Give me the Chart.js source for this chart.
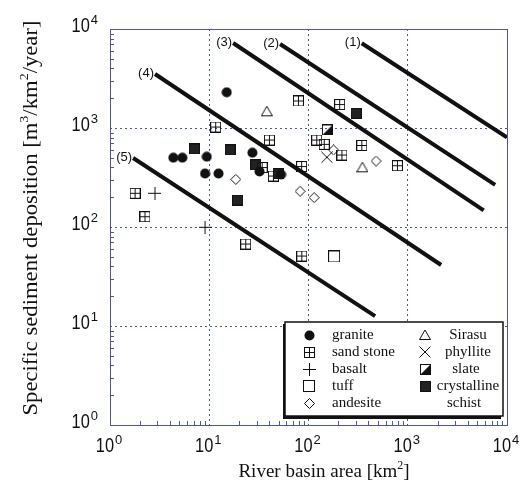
<!DOCTYPE html>
<html>
<head>
<meta charset="utf-8">
<script src="https://cdn.jsdelivr.net/npm/chart.js@4"></script>
<style>
  html, body { margin: 0; padding: 0; background: #fff; }
  canvas { display: block; }
</style>
</head>
<body>
<canvas id="sedimentChart" width="524" height="492"></canvas>
<script>
// [river basin area km2, specific sediment deposition m3/km2/year]
var granite = [[15.0, 2295], [4.35, 501], [5.36, 501], [9.44, 513], [9.07, 347], [12.4, 347], [27.2, 563], [32.1, 364], [52.9, 339]];
var sandStone = [[11.6, 1023], [79.1, 1875], [206, 1727], [40.4, 756], [121, 756], [144, 684], [217, 533], [344, 666], [787, 416],
                 [85.2, 408], [34.1, 399], [44.3, 327], [1.79, 219], [2.25, 127], [23.3, 67.3], [85.6, 50.9]];
var basalt = [[2.84, 219], [9.07, 99.3]];
var tuff = [[181, 50.4]];
var andesite = [[18.5, 303], [179, 600], [480, 464], [82.3, 230], [114, 198]];
var sirasu = [[38.0, 1475], [349, 401]];
var phyllite = [[153, 506]];
var slate = [[155, 955]];
var crystallineSchist = [[7.08, 614], [16.2, 600], [29.3, 423], [49.4, 347], [19.3, 187], [302, 1407]];

// envelope lines (1)..(5)
var lineNames = ['(1)', '(2)', '(3)', '(4)', '(5)'];
var lineStart = [[344, 7172], [51.7, 7050], [17.4, 7220], [2.84, 3510], [1.71, 498]];
var lineEnd = [[9980, 805], [7600, 266], [5820, 147], [2170, 41.3], [469, 12.6]];

var decades = [1, 10, 100, 1000, 10000];
var decadeExponents = ['0', '1', '2', '3', '4'];

// axis titles, split into [text, superscript?] runs
var xTitle = [['River basin area [km', false], ['2', true], [']', false]];
var yTitle = [['Specific sediment deposition [m', false], ['3', true], ['/km', false], ['2', true], ['/year]', false]];

var ink = '#111';
var frameColor = '#4a5a9e';

function marker(size, draw) {
  var c = document.createElement('canvas');
  c.width = size; c.height = size;
  var g = c.getContext('2d');
  g.strokeStyle = ink; g.fillStyle = ink; g.lineWidth = 1;
  draw(g, size);
  return c;
}

var markers = {
  granite: marker(11, function (g) { g.beginPath(); g.arc(5.5, 5.5, 5, 0, Math.PI * 2); g.fill(); }),
  sandStone: marker(11, function (g) {
    g.strokeRect(0.5, 0.5, 10, 10);
    g.beginPath(); g.moveTo(5.5, 0.5); g.lineTo(5.5, 10.5); g.moveTo(0.5, 5.5); g.lineTo(10.5, 5.5); g.stroke();
  }),
  basalt: marker(13, function (g) {
    g.beginPath(); g.moveTo(6.5, 0); g.lineTo(6.5, 13); g.moveTo(0, 6.5); g.lineTo(13, 6.5); g.stroke();
  }),
  tuff: marker(12, function (g) { g.strokeRect(0.5, 0.5, 11, 11); }),
  andesite: marker(11, function (g) {
    g.beginPath(); g.moveTo(5.5, 0.5); g.lineTo(10.5, 5.5); g.lineTo(5.5, 10.5); g.lineTo(0.5, 5.5); g.closePath(); g.stroke();
  }),
  sirasu: marker(12, function (g) {
    g.beginPath(); g.moveTo(6, 1); g.lineTo(11.5, 10.5); g.lineTo(0.5, 10.5); g.closePath(); g.stroke();
  }),
  phyllite: marker(12, function (g) {
    g.beginPath(); g.moveTo(0.5, 0.5); g.lineTo(11.5, 11.5); g.moveTo(11.5, 0.5); g.lineTo(0.5, 11.5); g.stroke();
  }),
  slate: marker(11, function (g) {
    g.strokeRect(0.5, 0.5, 10, 10);
    g.beginPath(); g.moveTo(10.5, 0.5); g.lineTo(10.5, 10.5); g.lineTo(0.5, 10.5); g.closePath(); g.fill();
  }),
  crystallineSchist: marker(11, function (g) { g.fillStyle = '#222'; g.fillRect(0, 0, 11, 11); g.strokeRect(0.5, 0.5, 10, 10); })
};

var rockSeries = [
  ['granite', granite, markers.granite],
  ['sand stone', sandStone, markers.sandStone],
  ['basalt', basalt, markers.basalt],
  ['tuff', tuff, markers.tuff],
  ['andesite', andesite, markers.andesite],
  ['Sirasu', sirasu, markers.sirasu],
  ['phyllite', phyllite, markers.phyllite],
  ['slate', slate, markers.slate],
  ['crystalline schist', crystallineSchist, markers.crystallineSchist]
];

var datasets = [];
rockSeries.forEach(function (s) {
  datasets.push({
    label: s[0],
    data: s[1].map(function (p) { return { x: p[0], y: p[1] }; }),
    pointStyle: s[2],
    pointRadius: 5,
    showLine: false
  });
});
lineNames.forEach(function (name, i) {
  datasets.push({
    label: name,
    data: [{ x: lineStart[i][0], y: lineStart[i][1] }, { x: lineEnd[i][0], y: lineEnd[i][1] }],
    showLine: true,
    borderColor: ink,
    borderWidth: 4,
    pointRadius: 0
  });
});

// "10" with a raised exponent; (ax, cy) = anchor x and vertical centre of the "10"
function drawPower(ctx, exp, ax, cy, align) {
  ctx.font = '21px "Liberation Sans"';
  var baseW = ctx.measureText('10').width * 0.78;
  ctx.font = '13px "Liberation Sans"';
  var expW = ctx.measureText(exp).width;
  var total = baseW + 1 + expW;
  var left = align === 'center' ? ax - total / 2 : ax - total;
  ctx.textAlign = 'left';
  ctx.textBaseline = 'alphabetic';
  ctx.save();
  ctx.translate(left, cy + 7.5);
  ctx.scale(0.78, 1);
  ctx.font = '21px "Liberation Sans"';
  ctx.fillText('10', 0, 0);
  ctx.restore();
  ctx.font = '13px "Liberation Sans"';
  ctx.fillText(exp, left + baseW + 1, cy - 0.5);
}

// serif title with superscripts, centred on the current origin, baseline at y = 0
function drawTitle(ctx, runs, size) {
  var big = size + 'px "Liberation Serif"', small = Math.round(size * 0.62) + 'px "Liberation Serif"';
  var widths = runs.map(function (r) { ctx.font = r[1] ? small : big; return ctx.measureText(r[0]).width; });
  var total = widths.reduce(function (s, w) { return s + w; }, 0);
  var x = -total / 2;
  ctx.textAlign = 'left';
  ctx.textBaseline = 'alphabetic';
  runs.forEach(function (r, i) {
    ctx.font = r[1] ? small : big;
    ctx.fillText(r[0], x, r[1] ? -size * 0.42 : 0);
    x += widths[i];
  });
}

var extras = {
  id: 'extras',
  afterDatasetsDraw: function (chart) {
    var ctx = chart.ctx, a = chart.chartArea, xs = chart.scales.x, ys = chart.scales.y;
    ctx.save();

    // frame and inward minor ticks
    ctx.strokeStyle = frameColor;
    ctx.lineWidth = 1;
    ctx.strokeRect(Math.round(a.left) + 0.5, Math.round(a.top) + 0.5, Math.round(a.right - a.left), Math.round(a.bottom - a.top));
    ctx.beginPath();
    for (var k = 0; k < 4; k++) {
      for (var m = 2; m <= 9; m++) {
        var v = m * decades[k];
        var px = Math.round(xs.getPixelForValue(v)) + 0.5;
        ctx.moveTo(px, a.bottom); ctx.lineTo(px, a.bottom - 4);
        var py = Math.round(ys.getPixelForValue(v)) + 0.5;
        ctx.moveTo(a.left, py); ctx.lineTo(a.left + 4, py);
      }
    }
    ctx.stroke();

    // decade tick labels
    ctx.fillStyle = ink;
    decades.forEach(function (d, i) {
      drawPower(ctx, decadeExponents[i], xs.getPixelForValue(d) - 1, a.bottom + 19, 'center');
      drawPower(ctx, decadeExponents[i], a.left - 12, ys.getPixelForValue(d) - 4.5, 'right');
    });

    // axis titles
    ctx.save();
    ctx.translate(324, 477);
    drawTitle(ctx, xTitle, 19);
    ctx.restore();
    ctx.save();
    ctx.translate(37, 218);
    ctx.rotate(-Math.PI / 2);
    ctx.scale(1.08, 1);
    drawTitle(ctx, yTitle, 21);
    ctx.restore();

    // line labels
    ctx.font = '13px "Liberation Sans"';
    ctx.fillStyle = ink;
    ctx.textAlign = 'right';
    ctx.textBaseline = 'middle';
    lineNames.forEach(function (name, i) {
      ctx.fillText(name, xs.getPixelForValue(lineStart[i][0]) - 1, ys.getPixelForValue(lineStart[i][1]) - 1);
    });

    // legend box
    var lx = 285, ly = 322, lw = 218, lh = 94;
    ctx.fillStyle = ink;
    ctx.fillRect(lx - 2, ly + 2, lw, lh + 1);
    ctx.fillStyle = '#fff';
    ctx.fillRect(lx, ly, lw, lh);
    ctx.strokeStyle = ink;
    ctx.lineWidth = 1.5;
    ctx.strokeRect(lx, ly, lw, lh);

    ctx.font = '15px "Liberation Serif"';
    ctx.fillStyle = ink;
    ctx.textBaseline = 'middle';
    var rows = [335, 352, 369, 386, 403];
    function icon(img, x, y) { ctx.drawImage(img, Math.round(x - img.width / 2), Math.round(y - img.height / 2)); }
    for (var r = 0; r < 5; r++) {
      icon(rockSeries[r][2], 309, rows[r]);
      ctx.textAlign = 'left';
      ctx.fillText(rockSeries[r][0], 332, rows[r]);
    }
    ctx.textAlign = 'center';
    for (var q = 5; q < 9; q++) {
      icon(rockSeries[q][2], 425, rows[q - 5]);
    }
    ctx.fillText('Sirasu', 468, rows[0]);
    ctx.fillText('phyllite', 468, rows[1]);
    ctx.fillText('slate', 466, rows[2]);
    ctx.fillText('crystalline', 468, rows[3]);
    ctx.fillText('schist', 464, rows[4]);

    ctx.restore();
  }
};

function decadeTicks(scale) {
  scale.ticks = decades.map(function (v) { return { value: v }; });
}

var ctx = document.getElementById('sedimentChart').getContext('2d');
var sedimentChart = new Chart(ctx, {
  type: 'scatter',
  data: { datasets: datasets },
  options: {
    responsive: false,
    animation: false,
    events: [],
    layout: { padding: { top: 29, right: 17, left: 0, bottom: 0 } },
    plugins: { legend: { display: false }, tooltip: { enabled: false } },
    scales: {
      x: {
        type: 'logarithmic',
        min: 1,
        max: 10000,
        afterBuildTicks: decadeTicks,
        afterFit: function (s) { s.height = 67; },
        grid: { color: frameColor, lineWidth: 1, drawTicks: false },
        border: { display: false, dash: [2, 3] },
        ticks: { display: false }
      },
      y: {
        type: 'logarithmic',
        min: 1,
        max: 10000,
        afterBuildTicks: decadeTicks,
        afterFit: function (s) { s.width = 110; },
        grid: { color: frameColor, lineWidth: 1, drawTicks: false },
        border: { display: false, dash: [2, 3] },
        ticks: { display: false }
      }
    }
  },
  plugins: [extras]
});
</script>
</body>
</html>
